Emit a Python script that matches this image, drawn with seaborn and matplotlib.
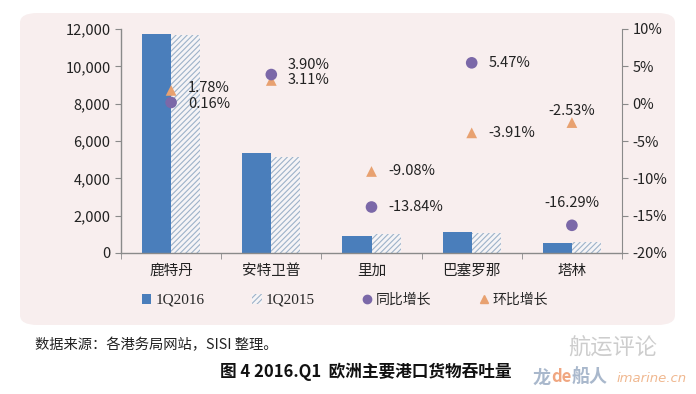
#libraries
import numpy as np
import pandas as pd
import matplotlib
matplotlib.use('Agg')
import matplotlib.pyplot as plt
import seaborn as sns
from matplotlib.patches import FancyBboxPatch
from matplotlib.lines import Line2D
from matplotlib.patches import Patch

#data
ports = ['鹿特丹', '安特卫普', '里加', '巴塞罗那', '塔林']
q2016 = [11720, 5340, 900, 1110, 520]
q2015 = [11700, 5160, 1000, 1050, 610]
yoy = [0.16, 3.90, -13.84, 5.47, -16.29]
qoq = [1.78, 3.11, -9.08, -3.91, -2.53]
series_names = ['1Q2016', '1Q2015']
yoy_name = '同比增长'
qoq_name = '环比增长'

blue = '#4a7ebb'
hatch_col = '#9db2c9'
purple = '#7b68a8'
orange = '#e8a170'
grey = '#8a8a8a'

sns.set_style('white')
plt.rcParams['font.family'] = ['Noto Sans CJK SC', 'DejaVu Sans']
plt.rcParams['hatch.linewidth'] = 0.8
plt.rcParams['hatch.color'] = hatch_col

df = pd.DataFrame({'port': ports * 2,
                   'series': [series_names[0]] * 5 + [series_names[1]] * 5,
                   'value': q2016 + q2015})

fig = plt.figure(figsize=(6.96, 3.94), dpi=100)
fig.patch.set_facecolor('white')
#pink rounded background panel
bg = FancyBboxPatch((20 / 696, 1 - 325 / 394), 655 / 696, 312 / 394,
                    boxstyle='round,pad=0,rounding_size=0.025',
                    transform=fig.transFigure, facecolor='#f8eeee',
                    edgecolor='none', zorder=-10)
fig.patches.append(bg)

ax = fig.add_axes([121 / 696, 1 - 253 / 394, 501 / 696, 224 / 394])
ax.set_facecolor('none')
sns.barplot(data=df, x='port', y='value', hue='series', palette=[blue, '#f6f4f6'],
            width=0.58, saturation=1, ax=ax, legend=False, linewidth=0)
for bar in ax.containers[1]:
    bar.set_hatch('//////')
    bar.set_edgecolor(hatch_col)
    bar.set_linewidth(0)

ax.set_xlim(-0.5, 4.5)
ax.set_ylim(0, 12000)
ax.set_yticks(range(0, 12001, 2000))
ax.set_yticklabels([f'{v:,}' for v in range(0, 12001, 2000)])
ax.set_xlabel('')
ax.set_ylabel('')
ax.set_xticks(np.arange(-0.5, 5, 1), minor=True)
ax.tick_params(axis='x', which='major', length=0, labelsize=10.5, pad=8, colors='#222222')
ax.tick_params(axis='x', which='minor', length=4, color=grey, direction='out', bottom=True)
ax.tick_params(axis='y', length=4, color=grey, direction='out', left=True, labelsize=10.5,
               labelcolor='#222222')
for s in ['top', 'right']:
    ax.spines[s].set_visible(False)
for s in ['left', 'bottom']:
    ax.spines[s].set_color(grey)
    ax.spines[s].set_linewidth(1)

#growth rates on the right axis
ax2 = ax.twinx()
pos = np.arange(len(ports))
sns.scatterplot(x=pos, y=yoy, marker='o', s=70, color=purple, edgecolor='none', ax=ax2,
                zorder=5)
sns.scatterplot(x=pos, y=qoq, marker='^', s=60, color=orange, edgecolor='none', ax=ax2,
                zorder=4)
ax2.set_ylim(-20, 10)
ax2.set_yticks(range(-20, 11, 5))
ax2.set_yticklabels([f'{v}%' for v in range(-20, 11, 5)])
ax2.tick_params(axis='y', length=4, color=grey, direction='out', right=True, labelsize=10.5,
                labelcolor='#222222')
for s in ['top', 'left', 'bottom']:
    ax2.spines[s].set_visible(False)
ax2.spines['right'].set_color(grey)
ax2.set_xlim(-0.5, 4.5)

#value labels (offsets in points)
yoy_off = [(12, -1), (12, 7), (12, 0), (12, 0), (0, 16)]
qoq_off = [(12, 2), (12, 0), (12, 0), (12, 0), (0, 8)]
for i in range(len(ports)):
    for val, off in ((yoy[i], yoy_off[i]), (qoq[i], qoq_off[i])):
        ha = 'left' if off[0] else 'center'
        ax2.annotate(f'{val:.2f}%', (pos[i], val), xytext=off, textcoords='offset points',
                     ha=ha, va='center', fontsize=10.5, color='#222222')

#legend
handles = [Patch(facecolor=blue, edgecolor='none'),
           Patch(facecolor='#f6f4f6', edgecolor=hatch_col, hatch='//////', linewidth=0),
           Line2D([], [], marker='o', linestyle='', color=purple, markersize=6),
           Line2D([], [], marker='^', linestyle='', color=orange, markersize=6)]
leg = fig.legend(handles, series_names + [yoy_name, qoq_name], loc='center',
                 bbox_to_anchor=(345 / 696, 1 - 300 / 394), ncol=4, frameon=False,
                 fontsize=10, handlelength=0.7, handleheight=0.7, handletextpad=0.3,
                 columnspacing=3.4)
for t in leg.get_texts()[:2]:
    t.set_family('Liberation Serif')
    t.set_fontsize(11)

#source and title
fig.text(35 / 696, 1 - 345 / 394, '数据来源：各港务局网站，SISI 整理。', fontsize=10.3,
         va='center', ha='left', color='#222222')
fig.text(366 / 696, 1 - 372 / 394, '图 4 2016.Q1  欧洲主要港口货物吞吐量', fontsize=12,
         fontweight='bold', va='center', ha='center', color='#111111')

#watermark
fig.text(568 / 696, 1 - 348 / 394, '航运评论', fontsize=16, color='#cdcdcd',
         va='center', ha='left')
fig.text(533 / 696, 1 - 377 / 394, '龙', fontsize=13, color='#a9b8cc', va='center',
         ha='left', fontweight='bold')
fig.text(551 / 696, 1 - 377 / 394, 'de', fontsize=12, color='#f0a680', va='center',
         ha='left', fontweight='bold')
fig.text(572 / 696, 1 - 377 / 394, '船人', fontsize=13, color='#a9b8cc', va='center',
         ha='left', fontweight='bold')
fig.text(617 / 696, 1 - 378 / 394, 'imarine.cn', fontsize=9.5, color='#f0b890',
         va='center', ha='left', style='italic', family='DejaVu Sans')

fig.savefig('out.png', dpi=100, facecolor='white')
